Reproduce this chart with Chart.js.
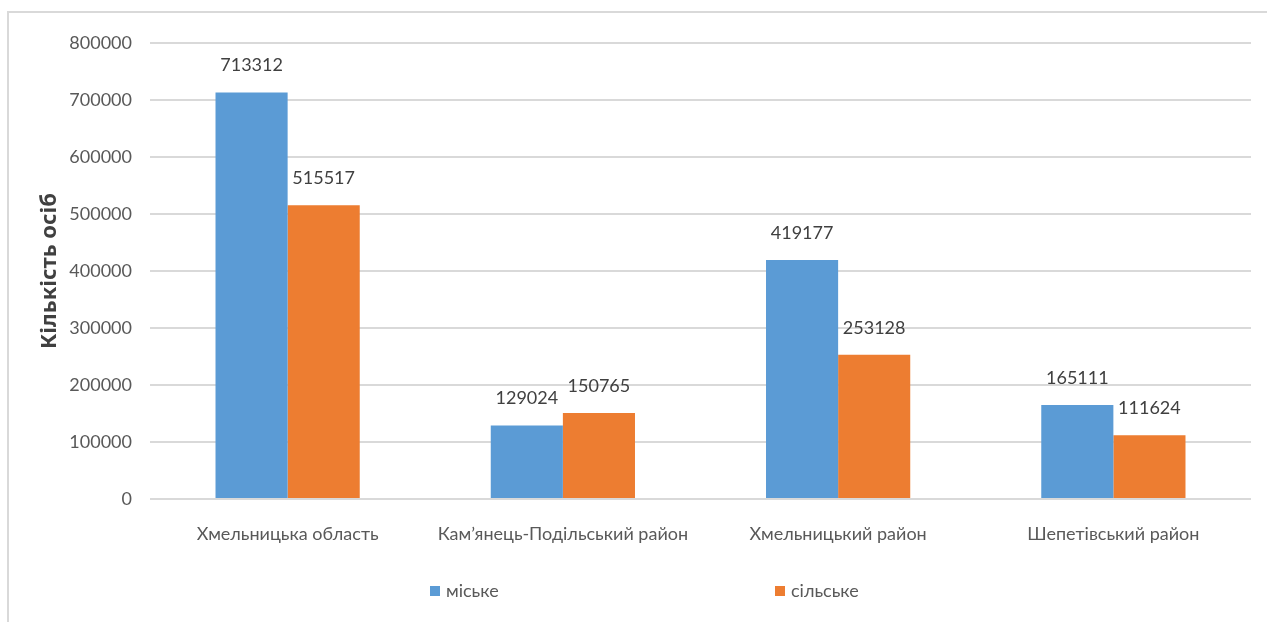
<!DOCTYPE html>
<html>
<head>
<meta charset="utf-8">
<script src="https://cdn.jsdelivr.net/npm/chart.js@4/dist/chart.umd.min.js"></script>
<style>
  html, body { margin: 0; padding: 0; background: #fff; overflow: hidden; }
  #frame { position: absolute; left: 7px; top: 11px; width: 1270px; height: 620px;
           border-top: 2px solid #d9d9d9; border-left: 2px solid #d9d9d9; }
  #wrap { position: absolute; left: 0; top: 0; width: 1267px; height: 622px; }
</style>
</head>
<body>
<div id="frame"></div>
<div id="wrap"><canvas id="chart"></canvas></div>
<script>
const categories = ['Хмельницька область', 'Кам’янець-Подільський район', 'Хмельницький район', 'Шепетівський район'];
const urban = [713312, 129024, 419177, 165111];
const rural = [515517, 150765, 253128, 111624];
const seriesNames = ['міське', 'сільське'];
const yTicks = [0, 100000, 200000, 300000, 400000, 500000, 600000, 700000, 800000];

const font = 'Lato, "Liberation Sans", sans-serif';

// value labels above each bar
const barLabels = {
	id: 'barLabels',
	afterDatasetsDraw (chart) {
		const ctx = chart.ctx;
		ctx.save();
		ctx.font = '18px ' + font;
		ctx.fillStyle = '#404040';
		ctx.textAlign = 'center';
		ctx.textBaseline = 'middle';
		chart.data.datasets.forEach((ds, i) => {
			chart.getDatasetMeta(i).data.forEach((bar, j) => {
				ctx.fillText(String(ds.data[j]), bar.x, bar.y - 27);
			});
		});
		ctx.restore();
	}
};

// wide-spaced legend under the axis, like the Excel original
const wideLegend = {
	id: 'wideLegend',
	afterDraw (chart) {
		const ctx = chart.ctx;
		const area = chart.chartArea;
		const y = area.bottom + 92;
		const xs = [area.left + 280, area.left + 625];
		ctx.save();
		ctx.font = '18px ' + font;
		ctx.textBaseline = 'middle';
		ctx.textAlign = 'left';
		chart.data.datasets.forEach((ds, i) => {
			ctx.fillStyle = ds.backgroundColor;
			ctx.fillRect(xs[i], y - 5, 10, 10);
			ctx.fillStyle = '#595959';
			ctx.fillText(ds.label, xs[i] + 16, y);
		});
		ctx.restore();
	}
};

new Chart(document.getElementById('chart'), {
	type: 'bar',
	data: {
		labels: categories,
		datasets: [
			{ label: seriesNames[0], data: urban, backgroundColor: '#5b9bd5' },
			{ label: seriesNames[1], data: rural, backgroundColor: '#ed7d31' }
		]
	},
	options: {
		responsive: true,
		maintainAspectRatio: false,
		animation: false,
		layout: { padding: { top: 43, right: 16, left: 0, bottom: 61 } },
		datasets: { bar: { barPercentage: 1, categoryPercentage: 0.524 } },
		scales: {
			x: {
				grid: { display: false },
				border: { display: false },
				ticks: { color: '#595959', font: { family: font, size: 18 }, padding: 16, maxRotation: 0 },
				afterFit (scale) { scale.height = 62; }
			},
			y: {
				min: 0,
				max: 800000,
				afterBuildTicks (scale) { scale.ticks = yTicks.map(v => ({ value: v })); },
				grid: { color: '#d9d9d9', lineWidth: 2, drawTicks: false },
				border: { display: false },
				ticks: {
					color: '#595959',
					font: { family: font, size: 18 },
					padding: 18,
					callback: v => String(v)
				},
				title: {
					display: true,
					text: 'Кількість осіб',
					color: '#404040',
					font: { family: '"Noto Sans", sans-serif', size: 22, weight: 'bold' },
					padding: { top: 37, bottom: 4 }
				},
				afterFit (scale) { scale.width = 150; }
			}
		},
		plugins: {
			legend: { display: false },
			tooltip: { enabled: false }
		}
	},
	plugins: [barLabels, wideLegend]
});
</script>
</body>
</html>
